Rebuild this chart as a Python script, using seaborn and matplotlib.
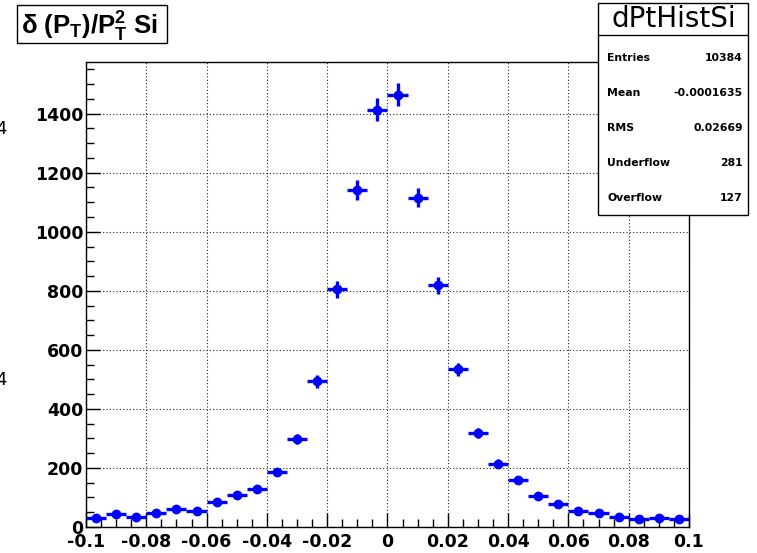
import numpy as np
import matplotlib
matplotlib.use("Agg")
import matplotlib.pyplot as plt
from matplotlib.patches import Rectangle
import seaborn as sns
import pandas as pd

# ---- data ----
x_lo, x_hi, n_bins = -0.1, 0.1, 30
counts = [31, 44, 35, 48, 61, 55, 86, 109, 128, 186,
          298, 494, 805, 1140, 1414, 1464, 1116, 818, 534, 319,
          215, 159, 106, 78, 54, 48, 33, 26, 31, 27]
hist_name = "dPtHistSi"
stat_labels = ["Entries", "Mean", "RMS", "Underflow", "Overflow"]
stat_values = ["10384", "-0.0001635", "0.02669", "281", "127"]
x_ticks = [-0.1, -0.08, -0.06, -0.04, -0.02, 0, 0.02, 0.04, 0.06, 0.08, 0.1]
x_tick_labels = ["-0.1", "-0.08", "-0.06", "-0.04", "-0.02", "0", "0.02", "0.04", "0.06", "0.08", "0.1"]
y_ticks = [0, 200, 400, 600, 800, 1000, 1200, 1400]

edges = np.linspace(x_lo, x_hi, n_bins + 1)
centers = 0.5 * (edges[:-1] + edges[1:])
half_w = 0.5 * (edges[1] - edges[0])
df = pd.DataFrame({"x": centers, "y": counts})
df["err"] = np.sqrt(df["y"])

sns.set_theme(style="white")
plt.rcParams["font.family"] = ["DejaVu Sans"]
plt.rcParams["text.color"] = "black"
plt.rcParams["axes.labelcolor"] = "black"
plt.rcParams["xtick.color"] = "black"
plt.rcParams["ytick.color"] = "black"
plt.rcParams["mathtext.fontset"] = "custom"
plt.rcParams["mathtext.rm"] = "Liberation Sans:bold"
plt.rcParams["mathtext.it"] = "Liberation Sans:bold"
plt.rcParams["mathtext.bf"] = "Liberation Sans:bold"

W, H = 757, 553
fig = plt.figure(figsize=(W / 100, H / 100), dpi=100)
fig.patch.set_facecolor("white")
ax = fig.add_axes([86 / W, 1 - 527 / H, (689 - 86) / W, (527 - 62) / H])
ax.set_facecolor("white")

ax.errorbar(df["x"], df["y"], xerr=half_w, yerr=df["err"], fmt="none",
            ecolor="#0000ff", elinewidth=2.4, capsize=0, zorder=3)
sns.scatterplot(data=df, x="x", y="y", ax=ax, color="#0000ff", s=50,
                edgecolor="#0000ff", linewidth=0, zorder=4, legend=False)

ax.set_xlim(x_lo, x_hi)
ax.set_ylim(0, 1575)
ax.set_xlabel("")
ax.set_ylabel("")
ax.set_xticks(x_ticks)
ax.set_xticklabels(x_tick_labels)
ax.set_yticks(y_ticks)
ax.set_xticks(np.arange(-0.1, 0.1001, 0.005), minor=True)
ax.set_yticks(np.arange(0, 1576, 50), minor=True)
ax.tick_params(axis="both", which="major", direction="in", length=10, width=1,
               color="black", labelcolor="black", labelsize=12.5, pad=3)
ax.tick_params(axis="both", which="minor", direction="in", length=5.5, width=1,
               color="black")
ax.tick_params(axis="x", which="both", bottom=True, top=False)
ax.tick_params(axis="y", which="both", left=True, right=False)
for lab in ax.get_xticklabels() + ax.get_yticklabels():
    lab.set_fontweight("bold")
ax.tick_params(axis="x", pad=4)
ax.tick_params(axis="y", pad=2)
ax.grid(True, which="major", linestyle=(0, (1, 2)), color="#222222", linewidth=0.8)
for sp in ax.spines.values():
    sp.set_color("black")
    sp.set_linewidth(1)
    sp.set_visible(True)

def fx(px):
    return px / W

def fy(py):
    return 1 - py / H

# title box
fig.patches.append(Rectangle((fx(17), fy(43)), (167 - 17) / W, (43 - 5) / H,
                             transform=fig.transFigure, facecolor="white",
                             edgecolor="black", linewidth=1, zorder=5))
fig.text(fx(21), fy(27), r"$\delta$ (P$_{T}$)/P$_{T}^{2}$ Si", fontsize=18.5,
         fontweight="bold", family="Liberation Sans", color="black",
         ha="left", va="center", zorder=6)

# stats box
bx0, bx1, by0, by1 = 598, 748, 3, 215
fig.patches.append(Rectangle((fx(bx0), fy(by1)), (bx1 - bx0) / W, (by1 - by0) / H,
                             transform=fig.transFigure, facecolor="white",
                             edgecolor="black", linewidth=1, zorder=5))
fig.add_artist(plt.Line2D([fx(bx0), fx(bx1)], [fy(35), fy(35)],
                          transform=fig.transFigure, color="black", linewidth=1, zorder=6))
fig.text(fx(674), fy(19), hist_name, fontsize=20, color="black",
         ha="center", va="center", zorder=6)
row_y = [58, 93, 128, 163, 198]
for lab, val, ry in zip(stat_labels, stat_values, row_y):
    fig.text(fx(607), fy(ry), lab, fontsize=7.8, fontweight="bold", color="black",
             ha="left", va="center", zorder=6)
    fig.text(fx(743), fy(ry), val, fontsize=7.8, fontweight="bold", color="black",
             ha="right", va="center", zorder=6)

# clipped fragments at left edge
fig.text(fx(-5), fy(129), "4", fontsize=13, color="black", ha="left", va="center")
fig.text(fx(-5), fy(380), "4", fontsize=13, color="black", ha="left", va="center")

fig.savefig("out.png", dpi=100, facecolor="white")
